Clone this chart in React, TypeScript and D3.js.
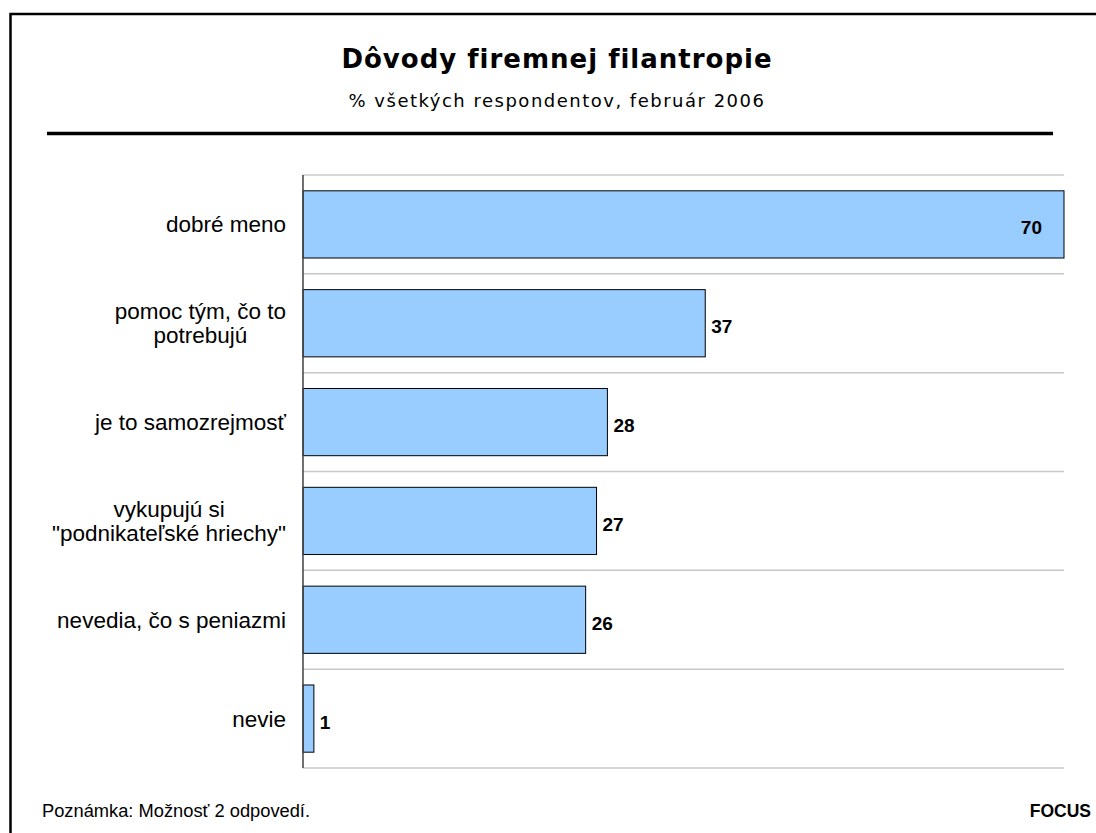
import { useEffect, useRef } from 'react'
import * as d3 from 'd3'

const CATEGORY_LINES: string[][] = [
  ['dobré meno'],
  ['pomoc tým, čo to', 'potrebujú'],
  ['je to samozrejmosť'],
  ['vykupujú si', '"podnikateľské hriechy"'],
  ['nevedia, čo s peniazmi'],
  ['nevie'],
]
const VALUES = [70, 37, 28, 27, 26, 1]
const X_DOMAIN = [0, 70]

const TITLE = 'Dôvody firemnej filantropie'
const SUBTITLE = '% všetkých respondentov, február 2006'
const NOTE = 'Poznámka: Možnosť 2 odpovedí.'
const SOURCE = 'FOCUS'

const WIDTH = 1096
const HEIGHT = 833
const ARIAL = '"Liberation Sans", Arial, sans-serif'
const VERDANA = '"DejaVu Sans", Verdana, sans-serif'

export default function App() {
  const svgRef = useRef<SVGSVGElement>(null)

  useEffect(() => {
    if (!svgRef.current) return
    const svg = d3.select(svgRef.current)
    svg.selectAll('*').remove()

    svg.append('rect').attr('width', WIDTH).attr('height', HEIGHT).attr('fill', '#fff')

    // outer frame, runs off the right and bottom edges
    svg.append('rect')
      .attr('x', 10.5).attr('y', 14).attr('width', 1300).attr('height', 1200)
      .attr('fill', 'none').attr('stroke', '#000').attr('stroke-width', 2.5)

    // title block
    svg.append('text').attr('x', 557).attr('y', 68)
      .attr('text-anchor', 'middle').attr('font-family', VERDANA)
      .attr('font-weight', 'bold').attr('font-size', 26).attr('letter-spacing', 1)
      .attr('fill', '#000')
      .text(TITLE)
    svg.append('text').attr('x', 557).attr('y', 107)
      .attr('text-anchor', 'middle').attr('font-family', VERDANA)
      .attr('font-size', 18).attr('letter-spacing', 1.5).attr('fill', '#000')
      .text(SUBTITLE)
    svg.append('line').attr('x1', 47).attr('x2', 1053).attr('y1', 133.5).attr('y2', 133.5)
      .attr('stroke', '#000').attr('stroke-width', 3.5)

    const left = 303
    const right = 1064
    const top = 175
    const bottom = 768

    const x = d3.scaleLinear().domain(X_DOMAIN).range([left, right])
    const idx = VALUES.map((_, i) => String(i))
    const band = d3.scaleBand<string>().domain(idx).range([top, bottom]).paddingInner(0)
    const y = d3.scaleBand<string>().domain(idx).range([top, bottom])
      .paddingInner(0.32).paddingOuter(0.16)

    // gridlines at category boundaries
    const bounds = idx.map(d => band(d)!).concat([bottom])
    svg.append('g').selectAll('line').data(bounds).join('line')
      .attr('x1', left).attr('x2', right)
      .attr('y1', d => d).attr('y2', d => d)
      .attr('stroke', '#c8c8c8').attr('stroke-width', 1.5)

    // bars
    svg.append('g').selectAll('rect').data(VALUES).join('rect')
      .attr('x', left)
      .attr('y', (_, i) => y(String(i))!)
      .attr('width', d => x(d) - left)
      .attr('height', y.bandwidth())
      .attr('fill', '#99ccff').attr('stroke', '#000').attr('stroke-width', 1)

    // axis line
    svg.append('line').attr('x1', left).attr('x2', left).attr('y1', top).attr('y2', bottom)
      .attr('stroke', '#404040').attr('stroke-width', 1.5)

    // value labels
    VALUES.forEach((v, i) => {
      const cy = y(String(i))! + y.bandwidth() / 2
      const t = svg.append('text')
        .attr('y', cy + 10).attr('font-family', ARIAL).attr('font-weight', 'bold')
        .attr('font-size', 19).attr('fill', '#000').text(String(v))
      const w = (t.node() as SVGTextElement).getComputedTextLength()
      if (x(v) + 6 + w > right) {
        t.attr('x', x(v) - 22).attr('text-anchor', 'end')
      } else {
        t.attr('x', x(v) + 6)
      }
    })

    // category labels, centered block ending at labelRight
    const labelRight = 286
    const lineH = 24
    CATEGORY_LINES.forEach((lines, i) => {
      const cy = band(String(i))! + band.bandwidth() / 2
      const g = svg.append('g')
      const texts = lines.map((ln, j) =>
        g.append('text')
          .attr('y', cy + 8 + (j - (lines.length - 1) / 2) * lineH)
          .attr('font-family', ARIAL).attr('font-size', 22.5).attr('fill', '#000')
          .attr('text-anchor', 'middle').text(ln)
      )
      const maxW = d3.max(texts, t => (t.node() as SVGTextElement).getComputedTextLength()) ?? 0
      texts.forEach(t => t.attr('x', labelRight - maxW / 2))
    })

    // footer
    svg.append('text').attr('x', 42).attr('y', 817)
      .attr('font-family', ARIAL).attr('font-size', 18.3).attr('fill', '#000')
      .text(NOTE)
    svg.append('text').attr('x', 1091).attr('y', 817).attr('text-anchor', 'end')
      .attr('font-family', ARIAL).attr('font-weight', 'bold').attr('font-size', 17.5)
      .attr('fill', '#000').text(SOURCE)
  }, [])

  return (
    <svg
      ref={svgRef}
      width={WIDTH}
      height={HEIGHT}
      style={{ position: 'absolute', left: 0, top: 0, display: 'block' }}
    />
  )
}
